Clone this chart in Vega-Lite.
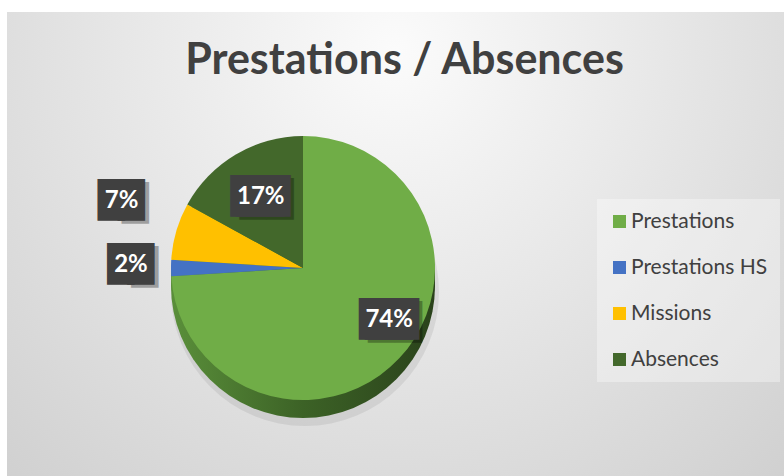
{
  "$schema": "https://vega.github.io/schema/vega-lite/v6.json",
  "width": 777,
  "height": 464,
  "autosize": {"type": "none"},
  "padding": {"left": 7, "top": 12, "right": 0, "bottom": 0},
  "background": "white",
  "config": {"view": {"stroke": "#c4c4c4", "strokeWidth": 1}},
  "title": {
    "text": "Prestations / Absences",
    "font": "Lato",
    "fontSize": 43,
    "fontWeight": "bold",
    "color": "#404040",
    "anchor": "middle",
    "frame": "group",
    "orient": "top",
    "baseline": "alphabetic",
    "offset": -63,
    "dx": 9,
    "dy": 42
  },
  "data": {
    "values": [
      {"cat": "Prestations", "k": 1, "share": 0.74},
      {"cat": "Prestations HS", "k": 2, "share": 0.02},
      {"cat": "Missions", "k": 3, "share": 0.07},
      {"cat": "Absences", "k": 4, "share": 0.17}
    ]
  },
  "layer": [
    {
      "transform": [{"aggregate": [{"op": "sum", "field": "share", "as": "total"}]}],
      "mark": {
        "type": "rect",
        "fill": {
          "gradient": "radial",
          "x1": 0.5, "y1": 0.25, "r1": 0,
          "x2": 0.5, "y2": 0.25, "r2": 0.8,
          "stops": [
            {"offset": 0, "color": "#fbfbfb"},
            {"offset": 1, "color": "#cdcdcd"}
          ]
        }
      },
      "encoding": {
        "x": {"value": 0},
        "x2": {"value": "width"},
        "y": {"value": 0},
        "y2": {"value": "height"}
      }
    },
    {
      "transform": [{"aggregate": [{"op": "sum", "field": "share", "as": "total"}]}],
      "mark": {"type": "arc", "x": 298, "y": 280, "outerRadius": 134, "fill": "#000000", "opacity": 0.07},
      "encoding": {"theta": {"field": "total", "type": "quantitative"}}
    },
    {
      "transform": [{"aggregate": [{"op": "sum", "field": "share", "as": "total"}]}],
      "mark": {
        "type": "arc", "x": 296, "y": 274, "outerRadius": 132,
        "fill": {
          "gradient": "linear", "x1": 0, "y1": 0, "x2": 1, "y2": 0,
          "stops": [
            {"offset": 0, "color": "#5a8f3a"},
            {"offset": 0.5, "color": "#3c6226"},
            {"offset": 1, "color": "#2a421b"}
          ]
        }
      },
      "encoding": {"theta": {"field": "total", "type": "quantitative"}}
    },
    {
      "transform": [{"aggregate": [{"op": "sum", "field": "share", "as": "total"}]}],
      "mark": {
        "type": "arc", "x": 296, "y": 265, "outerRadius": 132,
        "fill": {
          "gradient": "linear", "x1": 0, "y1": 0, "x2": 1, "y2": 0,
          "stops": [
            {"offset": 0, "color": "#5a8f3a"},
            {"offset": 0.5, "color": "#3c6226"},
            {"offset": 1, "color": "#2a421b"}
          ]
        }
      },
      "encoding": {"theta": {"field": "total", "type": "quantitative"}}
    },
    {
      "mark": {"type": "arc", "x": 296, "y": 256, "outerRadius": 132},
      "encoding": {
        "theta": {"field": "share", "type": "quantitative", "stack": true},
        "order": {"field": "k", "type": "quantitative"},
        "color": {
          "field": "cat",
          "type": "nominal",
          "sort": ["Prestations", "Prestations HS", "Missions", "Absences"],
          "scale": {
            "domain": ["Prestations", "Prestations HS", "Missions", "Absences"],
            "range": ["#70AD47", "#4472C4", "#FFC000", "#43682B"]
          },
          "legend": {
            "title": null,
            "orient": "none",
            "legendX": 590,
            "legendY": 187,
            "symbolType": "square",
            "symbolSize": 169,
            "symbolStrokeWidth": 0,
            "labelFont": "Lato",
            "labelFontSize": 21,
            "labelColor": "#404040",
            "labelOffset": 1,
            "labelLimit": 250,
            "rowPadding": 24,
            "padding": 12,
            "fillColor": "rgba(255,255,255,0.35)"
          }
        }
      }
    },
    {
      "mark": {"type": "text", "x": 296, "y": 256, "radius": 99, "dx": 20, "dy": -13, "text": "██", "font": "DejaVu Sans", "fontSize": 35, "fill": "#000000", "baseline": "middle", "align": "center"},
      "encoding": {
        "theta": {"field": "share", "type": "quantitative", "stack": true},
        "order": {"field": "k", "type": "quantitative"},
        "opacity": {"condition": {"test": "datum.cat === 'Prestations'", "value": 0.3}, "value": 0}
      }
    },
    {
      "mark": {"type": "text", "x": 296, "y": 256, "radius": 99, "dx": 11, "dy": -16, "text": "██", "font": "DejaVu Sans", "fontSize": 35, "fill": "#404040", "baseline": "middle", "align": "center"},
      "encoding": {
        "theta": {"field": "share", "type": "quantitative", "stack": true},
        "order": {"field": "k", "type": "quantitative"},
        "opacity": {"condition": {"test": "datum.cat === 'Prestations'", "value": 1}, "value": 0}
      }
    },
    {
      "mark": {"type": "text", "x": 296, "y": 256, "radius": 99, "dx": 17, "dy": -16, "text": "██", "font": "DejaVu Sans", "fontSize": 35, "fill": "#404040", "baseline": "middle", "align": "center"},
      "encoding": {
        "theta": {"field": "share", "type": "quantitative", "stack": true},
        "order": {"field": "k", "type": "quantitative"},
        "opacity": {"condition": {"test": "datum.cat === 'Prestations'", "value": 1}, "value": 0}
      }
    },
    {
      "mark": {"type": "text", "x": 296, "y": 256, "radius": 99, "dx": 14, "dy": -16, "font": "Lato", "fontSize": 24, "fontWeight": "bold", "fill": "white", "baseline": "middle", "align": "center"},
      "encoding": {
        "theta": {"field": "share", "type": "quantitative", "stack": true},
        "order": {"field": "k", "type": "quantitative"},
        "text": {"field": "share", "type": "quantitative", "format": ".0%"},
        "opacity": {"condition": {"test": "datum.cat === 'Prestations'", "value": 1}, "value": 0}
      }
    },
    {
      "mark": {"type": "text", "x": 296, "y": 256, "radius": 83, "dx": 6, "dy": 3, "text": "██", "font": "DejaVu Sans", "fontSize": 35, "fill": "#000000", "baseline": "middle", "align": "center"},
      "encoding": {
        "theta": {"field": "share", "type": "quantitative", "stack": true},
        "order": {"field": "k", "type": "quantitative"},
        "opacity": {"condition": {"test": "datum.cat === 'Absences'", "value": 0.3}, "value": 0}
      }
    },
    {
      "mark": {"type": "text", "x": 296, "y": 256, "radius": 83, "dx": -3, "text": "██", "font": "DejaVu Sans", "fontSize": 35, "fill": "#404040", "baseline": "middle", "align": "center"},
      "encoding": {
        "theta": {"field": "share", "type": "quantitative", "stack": true},
        "order": {"field": "k", "type": "quantitative"},
        "opacity": {"condition": {"test": "datum.cat === 'Absences'", "value": 1}, "value": 0}
      }
    },
    {
      "mark": {"type": "text", "x": 296, "y": 256, "radius": 83, "dx": 3, "text": "██", "font": "DejaVu Sans", "fontSize": 35, "fill": "#404040", "baseline": "middle", "align": "center"},
      "encoding": {
        "theta": {"field": "share", "type": "quantitative", "stack": true},
        "order": {"field": "k", "type": "quantitative"},
        "opacity": {"condition": {"test": "datum.cat === 'Absences'", "value": 1}, "value": 0}
      }
    },
    {
      "mark": {"type": "text", "x": 296, "y": 256, "radius": 83, "font": "Lato", "fontSize": 24, "fontWeight": "bold", "fill": "white", "baseline": "middle", "align": "center"},
      "encoding": {
        "theta": {"field": "share", "type": "quantitative", "stack": true},
        "order": {"field": "k", "type": "quantitative"},
        "text": {"field": "share", "type": "quantitative", "format": ".0%"},
        "opacity": {"condition": {"test": "datum.cat === 'Absences'", "value": 1}, "value": 0}
      }
    },
    {
      "mark": {"type": "text", "x": 296, "y": 256, "radius": 189, "dx": 14, "dy": -11, "text": "█", "font": "DejaVu Sans", "fontSize": 35, "fill": "#000000", "baseline": "middle", "align": "center"},
      "encoding": {
        "theta": {"field": "share", "type": "quantitative", "stack": true},
        "order": {"field": "k", "type": "quantitative"},
        "opacity": {"condition": {"test": "datum.cat === 'Missions'", "value": 0.3}, "value": 0}
      }
    },
    {
      "mark": {"type": "text", "x": 296, "y": 256, "radius": 189, "dx": -10, "dy": -14, "text": "█", "font": "DejaVu Sans", "fontSize": 35, "fill": "#404040", "baseline": "middle", "align": "center"},
      "encoding": {
        "theta": {"field": "share", "type": "quantitative", "stack": true},
        "order": {"field": "k", "type": "quantitative"},
        "opacity": {"condition": {"test": "datum.cat === 'Missions'", "value": 1}, "value": 0}
      }
    },
    {
      "mark": {"type": "text", "x": 296, "y": 256, "radius": 189, "dx": 10, "dy": -14, "text": "█", "font": "DejaVu Sans", "fontSize": 35, "fill": "#404040", "baseline": "middle", "align": "center"},
      "encoding": {
        "theta": {"field": "share", "type": "quantitative", "stack": true},
        "order": {"field": "k", "type": "quantitative"},
        "opacity": {"condition": {"test": "datum.cat === 'Missions'", "value": 1}, "value": 0}
      }
    },
    {
      "mark": {"type": "text", "x": 296, "y": 256, "radius": 189, "dy": -14, "font": "Lato", "fontSize": 24, "fontWeight": "bold", "fill": "white", "baseline": "middle", "align": "center"},
      "encoding": {
        "theta": {"field": "share", "type": "quantitative", "stack": true},
        "order": {"field": "k", "type": "quantitative"},
        "text": {"field": "share", "type": "quantitative", "format": ".0%"},
        "opacity": {"condition": {"test": "datum.cat === 'Missions'", "value": 1}, "value": 0}
      }
    },
    {
      "mark": {"type": "text", "x": 296, "y": 256, "radius": 172, "dx": 14, "dy": 0, "text": "█", "font": "DejaVu Sans", "fontSize": 35, "fill": "#000000", "baseline": "middle", "align": "center"},
      "encoding": {
        "theta": {"field": "share", "type": "quantitative", "stack": true},
        "order": {"field": "k", "type": "quantitative"},
        "opacity": {"condition": {"test": "datum.cat === 'Prestations HS'", "value": 0.3}, "value": 0}
      }
    },
    {
      "mark": {"type": "text", "x": 296, "y": 256, "radius": 172, "dx": -10, "dy": -3, "text": "█", "font": "DejaVu Sans", "fontSize": 35, "fill": "#404040", "baseline": "middle", "align": "center"},
      "encoding": {
        "theta": {"field": "share", "type": "quantitative", "stack": true},
        "order": {"field": "k", "type": "quantitative"},
        "opacity": {"condition": {"test": "datum.cat === 'Prestations HS'", "value": 1}, "value": 0}
      }
    },
    {
      "mark": {"type": "text", "x": 296, "y": 256, "radius": 172, "dx": 10, "dy": -3, "text": "█", "font": "DejaVu Sans", "fontSize": 35, "fill": "#404040", "baseline": "middle", "align": "center"},
      "encoding": {
        "theta": {"field": "share", "type": "quantitative", "stack": true},
        "order": {"field": "k", "type": "quantitative"},
        "opacity": {"condition": {"test": "datum.cat === 'Prestations HS'", "value": 1}, "value": 0}
      }
    },
    {
      "mark": {"type": "text", "x": 296, "y": 256, "radius": 172, "dy": -3, "font": "Lato", "fontSize": 24, "fontWeight": "bold", "fill": "white", "baseline": "middle", "align": "center"},
      "encoding": {
        "theta": {"field": "share", "type": "quantitative", "stack": true},
        "order": {"field": "k", "type": "quantitative"},
        "text": {"field": "share", "type": "quantitative", "format": ".0%"},
        "opacity": {"condition": {"test": "datum.cat === 'Prestations HS'", "value": 1}, "value": 0}
      }
    }
  ]
}
